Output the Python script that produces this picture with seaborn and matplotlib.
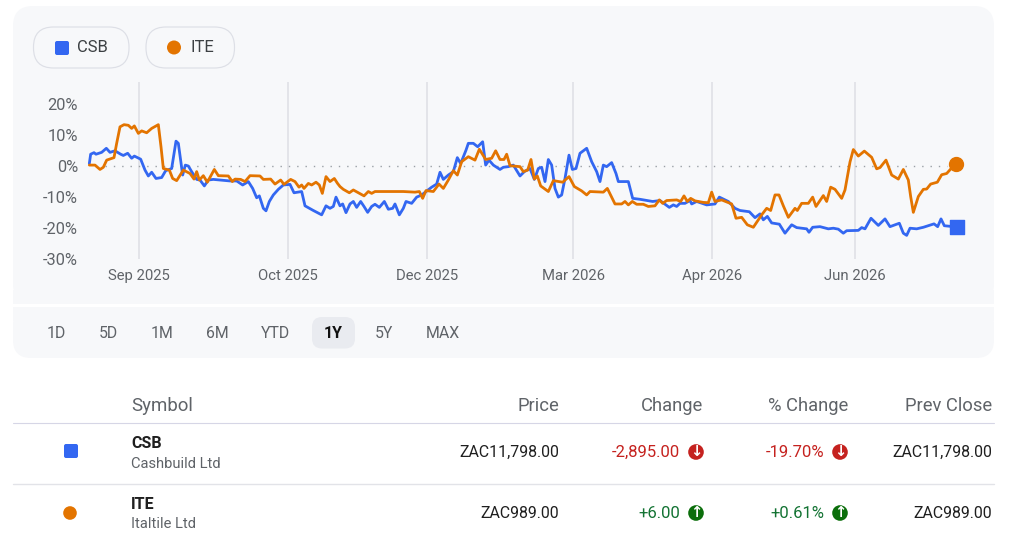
import matplotlib
matplotlib.use("Agg")
import matplotlib.pyplot as plt
from matplotlib.patches import FancyBboxPatch, Rectangle, Circle
import pandas as pd
import seaborn as sns

# ---- data: t is a position along the ordinal trading axis, values are % change ----
csb_t = [268,272,282,288,305,319,330,345,362,370,383,395,403,422,435,445,455,468,485,497,515,528,535,542,548,556,565,575,590,600,613,625,640,660,690,710,728,745,758,770,778,790,798,808,820,835,850,870,882,905,915,940,965,978,990,1000,1008,
         1020,1028,1038,1050,1060,1070,1082,1092,1103,1115,1125,1138,1153,1165,1178,1185,1198,1210,1218,1235,1250,1265,1278,1295,1310,1320,1330,1345,1360,1372,1382,1398,1405,1420,1433,1448,1457,1467,1480,1500,1510,1525,1540,1560,1573,1590,1603,1615,1625,1635,1645,1655,1665,1675,1685,1695,1707,1717,1728,1740,1760,1775,1790,1800,1810,1820,1835,1848,1855,1885,1898,1920,1958,
         1980,2008,2020,2030,2040,2055,2070,2075,2090,2120,2145,2158,2185,2205,2220,2248,2265,2280,2290,2302,2315,2338,2355,2375,2390,2420,2427,2438,2460,2485,2500,2515,2530,2540,2575,2585,2595,2613,2635,2655,2670,2698,2710,2720,2730,2750,2770,2802,2813,2823,2833,2870]
csb_v = [0.7,3.7,4.2,3.7,4.3,5.6,4.3,4.8,3.7,3.3,4.0,2.4,3.1,2.1,-1.4,-3.3,-2.1,-4.1,-3.8,-1.6,-0.9,7.9,7.2,1.8,-3.0,0.2,-0.1,-1.9,-4.4,-4.6,-6.5,-4.6,-4.4,-4.6,-4.9,-4.9,-6.2,-5.1,-7.3,-10.3,-9.7,-13.7,-14.5,-11.5,-9.4,-7.6,-6.2,-6.0,-8.7,-8.3,-12.9,-14.4,-15.8,-12.9,-13.7,-13.1,-10.1,
         -12.9,-12.3,-15.1,-12.3,-11.5,-13.4,-11.5,-13.1,-15.0,-13.1,-12.4,-13.4,-11.5,-14.0,-13.7,-12.3,-15.8,-13.7,-11.5,-12.1,-10.1,-9.4,-8.3,-6.9,-5.9,-2.1,-4.4,-3.0,-1.9,2.6,0.7,5.0,7.2,7.2,6.1,7.7,0.2,1.8,0.2,-1.2,-0.5,-0.3,0.2,-3.3,-1.9,-0.9,-4.4,-0.9,-0.5,-5.1,2.0,0.2,-7.3,-10.1,-9.4,-4.1,3.4,-1.2,-0.9,4.0,5.6,1.3,-1.9,-5.1,0.2,-0.3,1.0,-2.5,-5.1,-5.1,-10.5,-10.8,-11.5,
         -11.2,-13.4,-12.6,-13.1,-12.1,-12.1,-11.2,-12.3,-11.5,-12.6,-12.3,-10.1,-11.5,-13.7,-14.4,-14.8,-16.7,-15.5,-17.4,-16.3,-18.4,-18.8,-21.7,-19.0,-19.9,-20.3,-21.4,-19.8,-19.6,-20.3,-20.1,-20.4,-21.7,-20.9,-20.8,-19.9,-20.3,-16.9,-19.2,-17.1,-19.6,-18.5,-21.7,-22.4,-20.1,-20.3,-19.8,-18.7,-19.6,-17.1,-19.3,-19.7]

ite_t = [268,285,300,310,320,342,350,360,372,385,395,403,415,425,440,455,475,483,490,508,518,530,550,570,582,590,598,610,622,643,655,685,697,705,722,735,750,780,790,812,825,842,852,872,885,897,905,912,925,935,948,958,967,978,990,1003,1012,
         1020,1030,1048,1060,1075,1092,1105,1115,1125,1170,1210,1245,1258,1268,1278,1300,1317,1330,1345,1360,1372,1385,1405,1425,1438,1457,1475,1487,1500,1512,1520,1530,1560,1570,1583,1593,1603,1612,1622,1645,1660,1688,1707,1723,1745,1760,1770,1810,1822,1845,1865,1875,1885,1897,1910,1930,1945,1965,1978,
         1988,2000,2030,2042,2052,2062,2072,2085,2110,2125,2135,2145,2165,2195,2208,2225,2242,2260,2272,2285,2300,2312,2325,2337,2350,2365,2385,2392,2405,2425,2438,2448,2470,2480,2492,2505,2525,2535,2550,2560,2575,2593,2615,2630,2640,2658,2675,2695,2710,2725,2732,2740,2755,2770,2780,2792,2812,2825,2840,2867]
ite_v = [0.2,0.2,-1.2,-0.5,1.8,2.6,7.2,12.5,13.2,13.0,12.0,12.8,10.4,11.2,10.6,12.0,13.2,6.1,-0.9,-1.4,-4.1,-4.8,-1.4,-2.5,-4.3,-1.9,-4.6,-3.2,-5.3,-1.2,-3.2,-3.3,-5.1,-4.3,-4.4,-5.1,-3.2,-3.3,-4.4,-4.3,-5.9,-4.6,-6.0,-4.4,-5.1,-6.9,-6.2,-7.3,-5.7,-6.2,-5.3,-6.2,-8.9,-3.5,-5.1,-4.1,-5.6,
         -6.7,-7.6,-8.7,-7.8,-8.7,-9.7,-8.3,-8.9,-8.3,-8.3,-8.3,-8.5,-8.3,-10.5,-8.0,-8.3,-5.9,-7.3,-4.6,-1.6,-3.0,1.3,2.9,1.8,5.3,2.0,2.4,4.8,2.0,2.0,3.7,0.0,-0.3,-1.9,-1.4,2.0,-4.3,-3.3,-6.5,-8.3,-4.8,-5.3,-3.5,-6.7,-8.1,-9.4,-8.3,-8.5,-7.3,-12.3,-12.3,-11.5,-12.6,-11.5,-12.4,-12.4,-13.1,-12.9,-11.0,
         -12.1,-11.2,-11.0,-11.5,-9.7,-11.5,-10.5,-11.3,-11.8,-11.9,-8.5,-11.5,-11.0,-12.3,-16.9,-16.6,-19.0,-19.8,-17.9,-15.8,-13.7,-14.4,-9.4,-9.4,-12.9,-16.6,-13.7,-14.4,-12.1,-12.1,-10.1,-13.1,-9.6,-11.5,-6.9,-7.6,-10.5,-7.8,1.2,5.2,3.1,4.7,2.7,-1.0,-0.6,1.8,-3.0,-4.3,-1.2,-4.6,-9.9,-15.0,-9.9,-7.6,-7.5,-5.9,-5.3,-2.9,-2.5,0.7]

tick_pos = [417, 864, 1281, 1720, 2136, 2565]
tick_labels = ["Sep 2025", "Oct 2025", "Dec 2025", "Mar 2026", "Apr 2026", "Jun 2026"]
y_ticks = [20, 10, 0, -10, -20, -30]

symbols = ["CSB", "ITE"]
names = ["Cashbuild Ltd", "Italtile Ltd"]
prices = ["ZAC11,798.00", "ZAC989.00"]
changes = ["-2,895.00", "+6.00"]
pct_changes = ["-19.70%", "+0.61%"]
prev_close = ["ZAC11,798.00", "ZAC989.00"]
headers = ["Price", "Change", "% Change", "Prev Close"]
ranges = ["1D", "5D", "1M", "6M", "YTD", "1Y", "5Y", "MAX"]

BLUE, ORANGE = "#3367F1", "#E37400"
PANEL, GRID = "#F7F8FA", "#DDDFE4"
GREY, DARK = "#5F6368", "#1F1F1F"
RED, GREEN = "#C5221F", "#137333"
ICON_GREEN = "#0B6E0B"

sns.set_theme(style="white")
plt.rcParams["font.family"] = ["Roboto", "DejaVu Sans"]

W, H = 1024, 553
fig = plt.figure(figsize=(W / 100, H / 100), dpi=100, facecolor="white")

# overlay in pixel coordinates for the page furniture
bg = fig.add_axes([0, 0, 1, 1], zorder=0)
bg.set_xlim(0, W); bg.set_ylim(H, 0); bg.axis("off")

def panel(x0, y0, x1, y1, r, fc, ec="none", lw=0, ax=bg, z=1):
    ax.add_patch(FancyBboxPatch((x0 + r, y0 + r), x1 - x0 - 2 * r, y1 - y0 - 2 * r,
                                boxstyle=f"round,pad={r},rounding_size={r}",
                                fc=fc, ec=ec, lw=lw, zorder=z))

panel(13, 6, 994, 304, 20, PANEL)
panel(13, 307, 994, 358, 18, PANEL)
bg.add_patch(Rectangle((13, 290), 981, 14, fc=PANEL, ec="none", zorder=1))
bg.add_patch(Rectangle((13, 307), 981, 14, fc=PANEL, ec="none", zorder=1))

# legend chips
panel(33.5, 27, 129, 68, 20, PANEL, "#DDDFE6", 0.85, z=2)
panel(146, 27, 234.5, 68, 20, PANEL, "#DDDFE6", 0.85, z=2)
panel(55, 41, 69, 55, 2, BLUE, z=3)
bg.add_patch(Circle((174, 47.5), 7, fc=ORANGE, ec="none", zorder=3))
bg.text(77, 48, symbols[0], fontsize=12, color="#3C4043", va="center", zorder=3)
bg.text(190, 48, symbols[1], fontsize=12, color="#3C4043", va="center", zorder=3)

# range selector
panel(312, 317, 355, 348.5, 10, "#E9EBF0", z=2)
for x, r in zip([56, 108, 162, 217, 276, 333, 384, 443], ranges):
    sel = r == "1Y"
    bg.text(x, 333.5, r, fontsize=11.4, ha="center", va="center", zorder=3,
            color="#111111" if sel else GREY, fontweight="bold" if sel else "normal")

# main chart, drawn by seaborn
ax_x0, ax_x1, ax_y0, ax_y1 = 60, 990, 82, 259
ax = fig.add_axes([ax_x0 / W, 1 - ax_y1 / H, (ax_x1 - ax_x0) / W, (ax_y1 - ax_y0) / H], zorder=2)
ax.patch.set_alpha(0)
df = pd.concat([
    pd.DataFrame({"t": csb_t, "pct": csb_v, "symbol": "CSB"}),
    pd.DataFrame({"t": ite_t, "pct": ite_v, "symbol": "ITE"}),
])
sns.lineplot(data=df, x="t", y="pct", hue="symbol", palette={"CSB": BLUE, "ITE": ORANGE},
             estimator=None, sort=False, lw=2.0, legend=False, ax=ax, zorder=3)
ax.set_xlim(ax_x0 * 3, ax_x1 * 3)
y_at = lambda py: (166 - py) / 3.12
ax.set_ylim(y_at(ax_y1), y_at(ax_y0))
ax.set_xlabel(""); ax.set_ylabel("")
for s in ax.spines.values():
    s.set_visible(False)
for p in tick_pos:
    ax.axvline(p, color=GRID, lw=1.1, zorder=1)
ax.plot([315, 2840], [0, 0], color="#9AA0A6", lw=1.0, ls=(0, (1, 5)), zorder=1)
ax.set_xticks(tick_pos, tick_labels)
ax.set_yticks(y_ticks, [f"{v}%" for v in y_ticks])
ax.tick_params(axis="both", length=0, labelcolor=GREY)
ax.tick_params(axis="x", pad=7, labelsize=10.7)
ax.tick_params(axis="y", pad=-13, labelsize=11.8)
for lab in ax.get_yticklabels():
    lab.set_ha("right")
ax.scatter([csb_t[-1]], [csb_v[-1]], marker="s", s=105, color=BLUE, zorder=5, clip_on=False)
ax.scatter([ite_t[-1]], [ite_v[-1]], marker="o", s=100, color=ORANGE, zorder=5, clip_on=False)

# table
bg.text(131, 406, "Symbol", fontsize=13.4, color=GREY, va="center")
for x, h in zip([559, 703, 848, 992.5], headers):
    bg.text(x, 406, h, fontsize=13.2, color=GREY, va="center", ha="right")
bg.plot([13, 994], [422.5, 422.5], color="#D6D6E6", lw=0.8)
bg.plot([13, 994], [483.5, 483.5], color="#E2E3E8", lw=1.0)

panel(64, 444, 78, 458, 2, BLUE, z=3)
bg.add_patch(Circle((70, 513), 6.8, fc=ORANGE, ec="none", zorder=3))

for i, (ys, yn, yv) in enumerate([(444, 463.5, 452.5), (504.5, 524, 513.5)]):
    up = changes[i].startswith("+")
    col, icol = (GREEN, ICON_GREEN) if up else (RED, RED)
    arrow = "\u2191" if up else "\u2193"
    bg.text(131, ys, symbols[i], fontsize=11.5, fontweight="bold", color=DARK, va="center")
    bg.text(131, yn, names[i], fontsize=10.6, color=GREY, va="center")
    bg.text(559, yv, prices[i], fontsize=11.4, color=DARK, va="center", ha="right")
    bg.text(680, yv, changes[i], fontsize=12, color=col, va="center", ha="right")
    bg.text(824, yv, pct_changes[i], fontsize=12, color=col, va="center", ha="right")
    bg.text(992.5, yv, prev_close[i], fontsize=11.4, color=DARK, va="center", ha="right")
    for cx in (696, 840):
        bg.add_patch(Circle((cx, yv - 0.5), 7.8, fc=icol, ec="none", zorder=3))
        bg.text(cx, yv - 0.7, arrow, fontsize=10.5, fontweight="bold", color="white",
                ha="center", va="center", zorder=4, family="DejaVu Sans")

fig.savefig("out.png", dpi=100, facecolor="white")
